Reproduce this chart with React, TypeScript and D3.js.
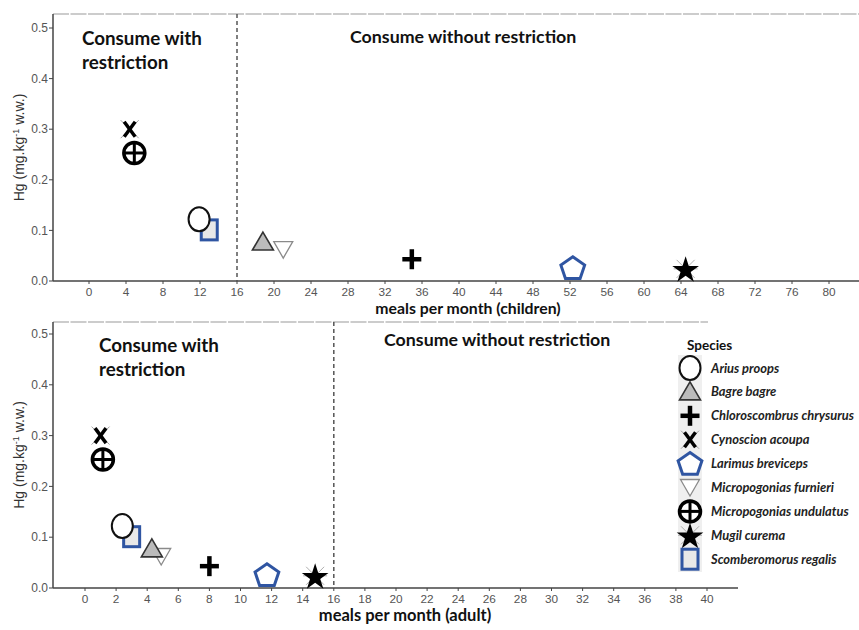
import React from 'react';
import * as d3 from 'd3';

// species in legend order
const species = [
  'Arius proops', 'Bagre bagre', 'Chloroscombrus chrysurus', 'Cynoscion acoupa',
  'Larimus breviceps', 'Micropogonias furnieri', 'Micropogonias undulatus',
  'Mugil curema', 'Scomberomorus regalis',
];
const shapes = ['circle', 'triUp', 'plus', 'cross', 'pentagon', 'triDown', 'oplus', 'star', 'square'];
const hg = [0.122, 0.077, 0.043, 0.30, 0.026, 0.062, 0.253, 0.024, 0.101];
const mealsChildren = [11.9, 18.8, 34.9, 4.4, 52.3, 21.0, 4.9, 64.5, 13.0];
const mealsAdult = [2.4, 4.3, 8.0, 1.0, 11.7, 4.9, 1.15, 14.8, 3.0];
// drawing order in the plot (square and down-triangle sit behind their neighbours)
const drawOrder = [8, 5, 0, 1, 2, 3, 4, 6, 7];

const yTicks = [0, 0.1, 0.2, 0.3, 0.4, 0.5];
const xTicksChildren = d3.range(0, 81, 4);
const xTicksAdult = d3.range(0, 41, 2);
const limit = 16;

const BLUE = '#2f55a2';
const TICK = '#555';
const AXIS = '#444';
const TITLE_FONT = 'Lato, "Open Sans", sans-serif';
const TICK_FONT = '"Liberation Sans", Arial, sans-serif';

function Marker({ shape, x, y }: { shape: string; x: number; y: number }) {
  const t = `translate(${x},${y})`;
  switch (shape) {
    case 'circle':
      return <ellipse cx={x} cy={y} rx={10.5} ry={12} fill="#fff" stroke="#111" strokeWidth={2} />;
    case 'triUp':
      return <path transform={t} d="M0,-10L10.5,8L-10.5,8Z" fill="#bbb" stroke="#333" strokeWidth={1.6} />;
    case 'triDown':
      return <path transform={t} d="M-9.5,-8L9.5,-8L0,8.5Z" fill="#fff" stroke="#8a8a8a" strokeWidth={1.3} />;
    case 'plus':
      return (
        <g transform={t} stroke="#000" strokeWidth={4.5}>
          <line x1={-9.5} x2={9.5} y1={0} y2={0} />
          <line x1={0} x2={0} y1={-10} y2={10} />
        </g>
      );
    case 'cross':
      return (
        <g transform={t}>
          <g stroke="#888" strokeWidth={0.8}>
            <line x1={-9} x2={9} y1={-9} y2={9} />
            <line x1={9} x2={-9} y1={-9} y2={9} />
          </g>
          <g stroke="#000" strokeWidth={3.5}>
            <line x1={-5.5} x2={5.5} y1={-7.5} y2={7.5} />
            <line x1={5.5} x2={-5.5} y1={-7.5} y2={7.5} />
          </g>
        </g>
      );
    case 'oplus':
      return (
        <g transform={t} stroke="#000">
          <circle r={10.5} fill="#fff" strokeWidth={3.5} />
          <line x1={-10.5} x2={10.5} y1={0} y2={0} strokeWidth={3} />
          <line x1={0} x2={0} y1={-10.5} y2={10.5} strokeWidth={3} />
        </g>
      );
    case 'pentagon': {
      const pts = d3.range(5).map(i => {
        const a = -Math.PI / 2 + (i * 2 * Math.PI) / 5;
        return [Math.cos(a) * 12.5, Math.sin(a) * 12 + 1];
      });
      return <path transform={t} d={'M' + pts.join('L') + 'Z'} fill="#fff" stroke={BLUE} strokeWidth={3} />;
    }
    case 'star':
      return (
        <g transform={t}>
          <g stroke="#999" strokeWidth={0.8}>
            <line x1={-12} x2={12} y1={0} y2={0} />
            <line x1={-9} x2={9} y1={-9} y2={9} />
            <line x1={9} x2={-9} y1={-9} y2={9} />
          </g>
          <path d={d3.symbol().type(d3.symbolStar).size(220)()!} transform="translate(0,1.5)" fill="#000" />
        </g>
      );
    case 'square':
      return <rect x={x - 8} y={y - 10} width={16} height={20} fill="#e8e8e8" stroke={BLUE} strokeWidth={3} />;
    default:
      return null;
  }
}

type PanelProps = {
  top: number; bottom: number; y05: number;
  x0: number; xMax: number; xMaxPx: number;
  axisEnd: number; borderEnd: number;
  ticks: number[]; meals: number[]; xTitle: string; xTitleX: number; xTitleSize: number;
  leftText: [number, number]; rightText: [number, number];
};

function Panel(p: PanelProps) {
  const left = 53;
  const x = d3.scaleLinear().domain([0, p.xMax]).range([p.x0, p.xMaxPx]);
  const y = d3.scaleLinear().domain([0, 0.5]).range([p.bottom, p.y05]);
  const yMid = (p.top + p.bottom) / 2;
  return (
    <g>
      {/* frame */}
      <line x1={left} x2={p.borderEnd} y1={p.top} y2={p.top} stroke="#999" strokeWidth={1.2} strokeDasharray="16,1.5" />
      <line x1={left} x2={left} y1={p.top} y2={p.bottom} stroke={AXIS} strokeWidth={1.5} />
      <line x1={left} x2={p.axisEnd} y1={p.bottom} y2={p.bottom} stroke={AXIS} strokeWidth={1.5} />
      {/* y ticks */}
      {yTicks.map(v => (
        <g key={v}>
          <line x1={left - 4} x2={left} y1={y(v)} y2={y(v)} stroke={AXIS} strokeWidth={1} />
          <text x={left - 5} y={y(v)} dy="0.35em" textAnchor="end" fontFamily={TICK_FONT} fontSize={12} fill={TICK}>
            {v.toFixed(1)}
          </text>
        </g>
      ))}
      {/* x ticks */}
      {p.ticks.map(v => (
        <g key={v}>
          <line x1={x(v)} x2={x(v)} y1={p.bottom} y2={p.bottom + 3} stroke={AXIS} strokeWidth={1} />
          <text x={x(v)} y={p.bottom + 15} textAnchor="middle" fontFamily={TICK_FONT} fontSize={11.8} fill={TICK}>
            {v}
          </text>
        </g>
      ))}
      <text transform={`translate(24,${yMid}) rotate(-90)`} textAnchor="middle" fontFamily={TICK_FONT} fontSize={14} fill="#333">
        Hg (mg.kg<tspan dy={-5.5} fontSize={9}>-1</tspan><tspan dy={5.5}> w.w.)</tspan>
      </text>
      <text x={p.xTitleX} y={p.bottom + 32.5} textAnchor="middle" fontFamily={TITLE_FONT} fontWeight={700} fontSize={p.xTitleSize} fill="#111">
        {p.xTitle}
      </text>
      {/* limit line */}
      <line x1={x(limit)} x2={x(limit)} y1={p.top} y2={p.bottom} stroke="#555" strokeWidth={1.5} strokeDasharray="4,3" />
      <text fontFamily={TITLE_FONT} fontWeight={700} fontSize={18.8} fill="#111">
        <tspan x={p.leftText[0]} y={p.leftText[1]}>Consume with</tspan>
        <tspan x={p.leftText[0]} y={p.leftText[1] + 24}>restriction</tspan>
      </text>
      <text x={p.rightText[0]} y={p.rightText[1]} fontFamily={TITLE_FONT} fontWeight={700} fontSize={17.8} fill="#111">
        Consume without restriction
      </text>
      {/* points */}
      {drawOrder.map(i => (
        <Marker key={species[i]} shape={shapes[i]} x={x(p.meals[i])} y={y(hg[i])} />
      ))}
    </g>
  );
}

function Legend() {
  const lx = 690;
  const y0 = 368;
  const step = 23.9;
  return (
    <g>
      <text x={687} y={350} fontFamily={TITLE_FONT} fontWeight={700} fontSize={13.5} fill="#111">Species</text>
      <rect x={678} y={355} width={24} height={217} fill="#efefef" />
      {species.map((s, i) => (
        <g key={s}>
          <Marker shape={shapes[i]} x={lx} y={y0 + i * step} />
          <text x={711} y={y0 + i * step} dy="0.35em" fontFamily={TITLE_FONT} fontStyle="italic" fontWeight={700} fontSize={12.9} fill="#222">
            {s}
          </text>
        </g>
      ))}
    </g>
  );
}

export default function App() {
  return (
    <svg width={859} height={630} style={{ position: 'absolute', left: 0, top: 0, background: '#fff' }}>
      <rect width={859} height={630} fill="#fff" />
      <Panel
        top={14} bottom={281} y05={28}
        x0={89} xMax={80} xMaxPx={829}
        axisEnd={859} borderEnd={859}
        ticks={xTicksChildren} meals={mealsChildren}
        xTitle="meals per month (children)" xTitleX={468} xTitleSize={15.8}
        leftText={[82, 45]} rightText={[350, 43]}
      />
      <Panel
        top={322} bottom={588} y05={334}
        x0={85} xMax={40} xMaxPx={707}
        axisEnd={738} borderEnd={708}
        ticks={xTicksAdult} meals={mealsAdult}
        xTitle="meals per month (adult)" xTitleX={405} xTitleSize={16.5}
        leftText={[99, 352]} rightText={[384, 346]}
      />
      <Legend />
    </svg>
  );
}
